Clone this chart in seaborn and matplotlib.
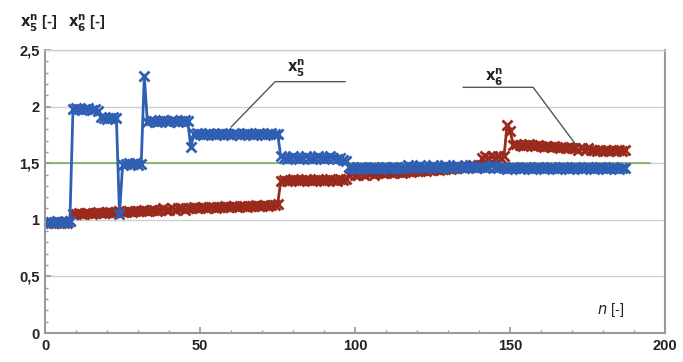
import matplotlib
matplotlib.use('Agg')
import matplotlib.pyplot as plt
from matplotlib.ticker import FuncFormatter, MultipleLocator
import numpy as np
import pandas as pd
import seaborn as sns

# %% data (n = 1 ... 187)
x5 = [0.98, 0.97, 0.98, 0.99, 0.98, 0.97, 0.98, 0.99, 1.98, 1.99,
      1.98, 1.97, 1.98, 1.99, 1.97, 1.98, 1.96, 1.91, 1.90, 1.89,
      1.90, 1.91, 1.90, 1.05, 1.48, 1.49, 1.50, 1.49, 1.50, 1.48,
      1.49, 2.27, 1.86, 1.88, 1.87, 1.86, 1.87, 1.88, 1.87, 1.86,
      1.88, 1.87, 1.86, 1.87, 1.88, 1.87, 1.64, 1.76, 1.77, 1.76,
      1.75, 1.76, 1.77, 1.76, 1.75, 1.76, 1.77, 1.76, 1.76, 1.75,
      1.77, 1.76, 1.75, 1.76, 1.77, 1.76, 1.75, 1.76, 1.77, 1.76,
      1.75, 1.76, 1.77, 1.76, 1.76, 1.56, 1.55, 1.54, 1.55, 1.56,
      1.55, 1.54, 1.55, 1.56, 1.55, 1.54, 1.55, 1.56, 1.55, 1.54,
      1.55, 1.56, 1.55, 1.54, 1.55, 1.53, 1.52, 1.47, 1.46, 1.45,
      1.46, 1.47, 1.46, 1.45, 1.46, 1.47, 1.46, 1.45, 1.46, 1.47,
      1.46, 1.47, 1.46, 1.45, 1.46, 1.47, 1.48, 1.47, 1.46, 1.47,
      1.48, 1.47, 1.46, 1.47, 1.48, 1.47, 1.46, 1.47, 1.48, 1.47,
      1.46, 1.47, 1.48, 1.47, 1.46, 1.47, 1.48, 1.47, 1.46, 1.47,
      1.47, 1.46, 1.47, 1.48, 1.47, 1.46, 1.47, 1.46, 1.45, 1.46,
      1.47, 1.46, 1.45, 1.46, 1.47, 1.46, 1.45, 1.46, 1.47, 1.46,
      1.45, 1.46, 1.47, 1.46, 1.45, 1.46, 1.47, 1.46, 1.45, 1.46,
      1.47, 1.46, 1.45, 1.46, 1.47, 1.46, 1.45, 1.46, 1.47, 1.46,
      1.45, 1.46, 1.47, 1.46, 1.45, 1.46, 1.46]

x6 = [0.97, 0.98, 0.97, 0.98, 0.97, 0.98, 0.97, 0.99, 1.05, 1.05,
      1.06, 1.05, 1.06, 1.06, 1.05, 1.06, 1.07, 1.06, 1.06, 1.07,
      1.07, 1.06, 1.07, 1.08, 1.07, 1.07, 1.08, 1.07, 1.08, 1.08,
      1.08, 1.09, 1.08, 1.09, 1.09, 1.08, 1.09, 1.10, 1.09, 1.09,
      1.10, 1.09, 1.10, 1.10, 1.09, 1.10, 1.10, 1.11, 1.10, 1.10,
      1.11, 1.10, 1.11, 1.11, 1.10, 1.11, 1.11, 1.12, 1.11, 1.11,
      1.12, 1.11, 1.12, 1.12, 1.11, 1.12, 1.12, 1.13, 1.12, 1.12,
      1.13, 1.12, 1.13, 1.13, 1.14, 1.34, 1.35, 1.34, 1.35, 1.36,
      1.35, 1.34, 1.35, 1.36, 1.35, 1.34, 1.35, 1.36, 1.35, 1.34,
      1.35, 1.36, 1.35, 1.34, 1.36, 1.35, 1.36, 1.40, 1.41, 1.40,
      1.40, 1.41, 1.40, 1.41, 1.41, 1.40, 1.41, 1.42, 1.41, 1.41,
      1.42, 1.41, 1.42, 1.42, 1.41, 1.42, 1.43, 1.42, 1.43, 1.43,
      1.43, 1.44, 1.43, 1.44, 1.44, 1.45, 1.44, 1.45, 1.45, 1.46,
      1.45, 1.46, 1.46, 1.47, 1.46, 1.47, 1.47, 1.48, 1.47, 1.48,
      1.55, 1.56, 1.55, 1.56, 1.55, 1.56, 1.55, 1.56, 1.84, 1.78,
      1.66, 1.67, 1.66, 1.65, 1.66, 1.67, 1.66, 1.65, 1.66, 1.65,
      1.64, 1.65, 1.64, 1.65, 1.64, 1.63, 1.64, 1.63, 1.64, 1.63,
      1.63, 1.62, 1.63, 1.62, 1.63, 1.62, 1.62, 1.61, 1.62, 1.61,
      1.62, 1.61, 1.62, 1.61, 1.62, 1.61, 1.62]

n = np.arange(1, len(x5) + 1)

# green reference level
ref_n = [0, 195]
ref_val = [1.5, 1.5]

y_ticks = [0, 0.5, 1, 1.5, 2, 2.5]
x_ticks = [0, 50, 100, 150, 200]

# %% style
sns.set_theme(style='white')
plt.rcParams['font.family'] = ['Liberation Sans', 'DejaVu Sans']

blue = '#2f5fb3'
red = '#9a2a1c'
green = '#7fae5e'
grey = '#9a9a9a'

df5 = pd.DataFrame({'n': n, 'value': x5})
df6 = pd.DataFrame({'n': n, 'value': x6})
ref = pd.DataFrame({'n': ref_n, 'value': ref_val})

fig = plt.figure(figsize=(6.83, 3.62), dpi=100)
ax = fig.add_axes([0.066, 0.080, 0.908, 0.782])

# grid lines
for yv in y_ticks[1:]:
    ax.axhline(yv, color='#cfcfcf', lw=1.0, zorder=0)

sns.lineplot(data=ref, x='n', y='value', color=green, lw=1.2, ax=ax, zorder=1)
for d, c in [(df6, red), (df5, blue)]:
    sns.lineplot(data=d, x='n', y='value', color=c, marker='x',
                 markersize=7.5, markeredgewidth=2.0, markeredgecolor=c,
                 lw=2.0, ax=ax, zorder=2)

ax.set_xlim(0, 200)
ax.set_ylim(0, 2.5)
ax.set_xticks(x_ticks)
ax.set_yticks(y_ticks)
ax.xaxis.set_minor_locator(MultipleLocator(10))
ax.yaxis.set_minor_locator(MultipleLocator(0.1))
fmt = FuncFormatter(lambda v, p: ('%g' % v).replace('.', ','))
ax.xaxis.set_major_formatter(fmt)
ax.yaxis.set_major_formatter(fmt)
ax.tick_params(axis='both', which='major', labelsize=10.5, length=4,
               color=grey, direction='in', pad=4, bottom=True, left=True)
ax.tick_params(axis='both', which='minor', length=2, color=grey,
               direction='in', bottom=True, left=True)
for lab in ax.get_xticklabels() + ax.get_yticklabels():
    lab.set_fontweight('bold')
    lab.set_color('#222222')
ax.set_xlabel('')
ax.set_ylabel('')

for side in ['left', 'bottom', 'right', 'top']:
    ax.spines[side].set_color(grey)
    ax.spines[side].set_linewidth(1.5)
ax.spines['top'].set_color('#cfcfcf')
ax.spines['top'].set_linewidth(1.0)

# axis titles
fig.text(0.030, 0.935, r'$\mathbf{x^{n}_{5}}$ [-]   $\mathbf{x^{n}_{6}}$ [-]',
         fontsize=10.5, fontweight='bold', color='#222222', va='center')
ax.text(178, 0.17, r'$n$ [-]', fontsize=10.5, color='#222222', ha='left')

# leader labels
ax.plot([60, 74.2, 96.8], [1.82, 2.22, 2.22], color='#555555', lw=1.0)
ax.text(78, 2.30, r'$\mathbf{x^{n}_{5}}$', fontsize=10.5, color='#222222')
ax.plot([134.8, 157.4, 171], [2.17, 2.17, 1.67], color='#555555', lw=1.0)
ax.text(142, 2.22, r'$\mathbf{x^{n}_{6}}$', fontsize=10.5, color='#222222')

fig.savefig('out.png', dpi=100)
